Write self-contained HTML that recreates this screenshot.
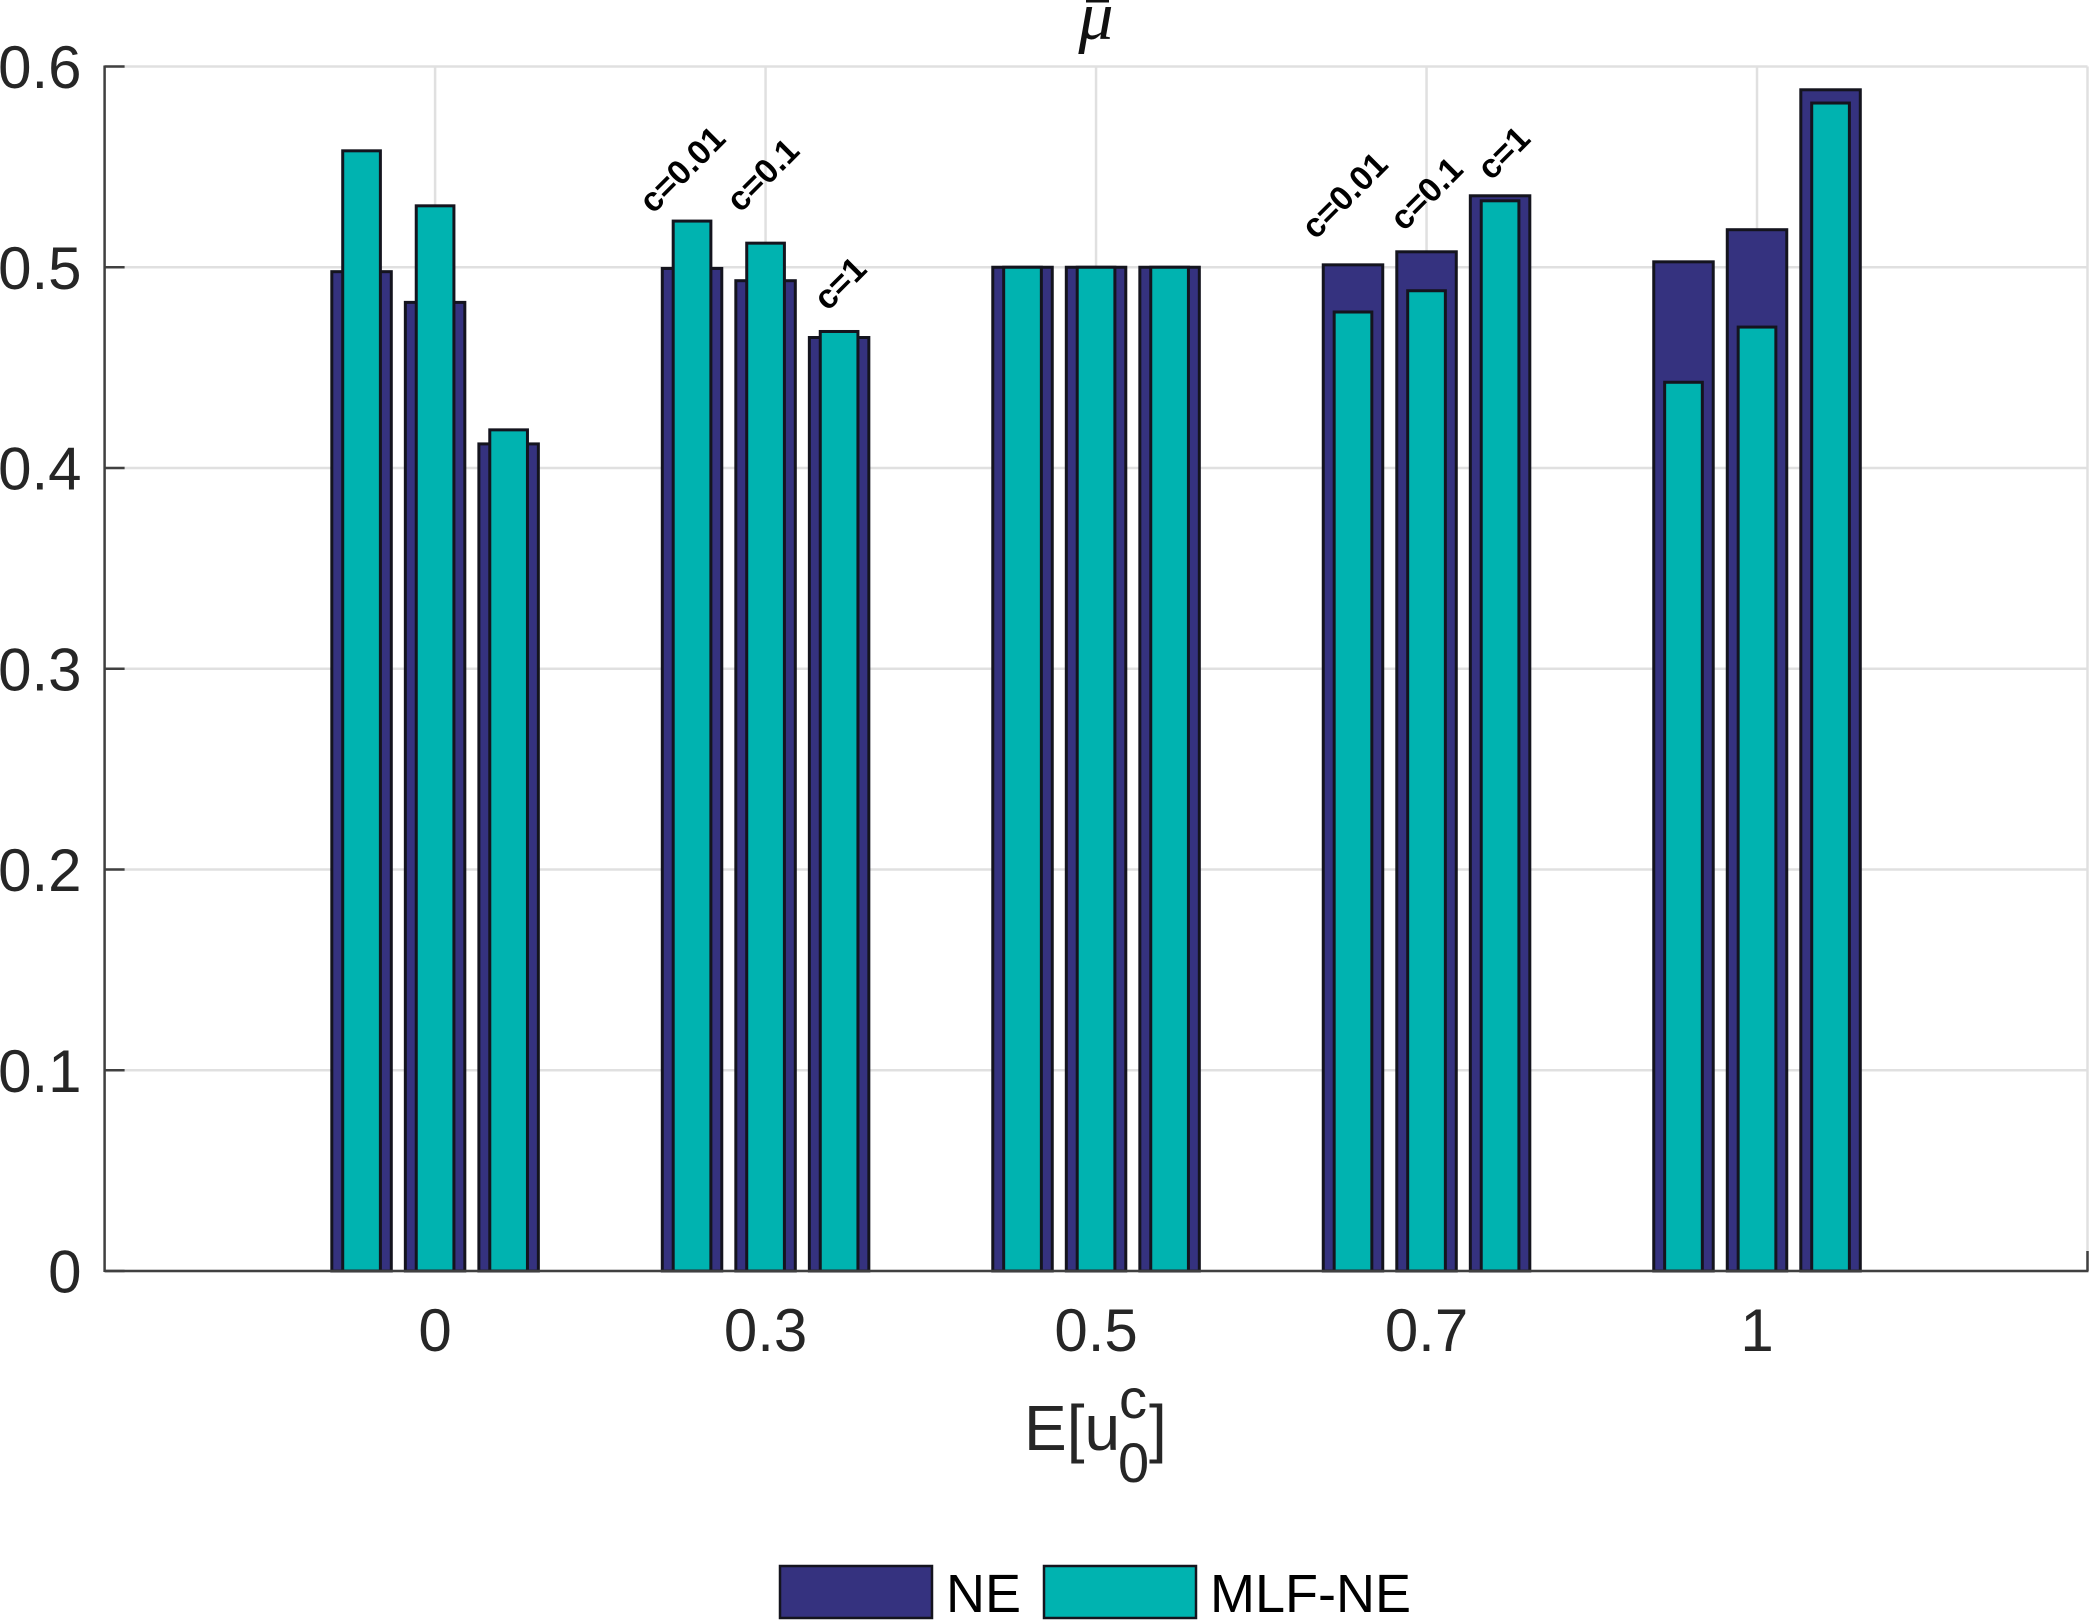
<!DOCTYPE html>
<html lang="en">
<head>
<meta charset="utf-8">
<title>Bar chart of mu-bar by E[u0c]</title>
<style>
html,body{margin:0;padding:0;background:#fff;width:2090px;height:1620px;overflow:hidden}
svg{display:block;font-family:"Liberation Sans",Arial,sans-serif}
</style>
</head>
<body>
<svg id="chart" xmlns="http://www.w3.org/2000/svg" width="2090" height="1620" viewBox="0 0 2090 1620">
  <g id="grid"></g>
  <g id="bars"></g>
  <g id="axes"></g>
  <g id="annotations"></g>
  <rect x="1086" y="0" width="23" height="2.5" fill="#111"/>
  <text x="1096" y="39" text-anchor="middle" font-family="'Liberation Serif',serif" font-style="italic" font-size="70" fill="#111">μ</text>
  <text fill="#262626" font-size="64"><tspan x="1024" y="1450">E[u</tspan><tspan x="1119" y="1418" font-size="56">c</tspan><tspan x="1118" y="1482" font-size="56">0</tspan><tspan x="1149" y="1450">]</tspan></text>
  <g>
    <rect x="780" y="1566" width="152" height="52" fill="#35327f" stroke="#14141e" stroke-width="2.5"/>
    <text x="946" y="1612" font-size="54" fill="#000">NE</text>
    <rect x="1044" y="1566" width="152" height="52" fill="#00b3b0" stroke="#14141e" stroke-width="2.5"/>
    <text x="1210" y="1612" font-size="54" fill="#000">MLF-NE</text>
  </g>
</svg>
<script>
const categories = ['0', '0.3', '0.5', '0.7', '1'];
const yTickValues = [0, 0.1, 0.2, 0.3, 0.4, 0.5, 0.6];
const yTickLabels = ['0', '0.1', '0.2', '0.3', '0.4', '0.5', '0.6'];
const neC001 = [0.4978, 0.4994, 0.5, 0.5012, 0.5027];
const neC01 = [0.4825, 0.4933, 0.5, 0.5077, 0.5187];
const neC1 = [0.412, 0.465, 0.5, 0.5356, 0.5884];
const mlfC001 = [0.558, 0.523, 0.5, 0.4777, 0.4427];
const mlfC01 = [0.5306, 0.512, 0.5, 0.4883, 0.4702];
const mlfC1 = [0.419, 0.468, 0.5, 0.5331, 0.5818];
const annotationText = ['c=0.01', 'c=0.1', 'c=1', 'c=0.01', 'c=0.1', 'c=1'];
const annotationX = [1.66, 1.924, 2.188, 3.664, 3.932, 4.196];
const annotationY = [0.5262, 0.5268, 0.4778, 0.5133, 0.5175, 0.5428];

const NS = 'http://www.w3.org/2000/svg';
const plot = {left: 104.6, right: 2087.5, top: 66.5, bottom: 1271};
const xMax = categories.length + 1;
const yMax = 0.6;
const barGroupStep = 0.2225;
const neWidth = 0.18;
const mlfWidth = 0.114;

function xScale(v) { return plot.left + (plot.right - plot.left) * v / xMax; }
function yScale(v) { return plot.bottom - (plot.bottom - plot.top) * v / yMax; }

function make(tag, parentId, props) {
  const el = document.createElementNS(NS, tag);
  for (const k in props) el.setAttribute(k, props[k]);
  document.getElementById(parentId).appendChild(el);
  return el;
}

// grid lines
yTickValues.forEach(function (t) {
  const el = make('line', 'grid', {x1: plot.left, x2: plot.right, y1: yScale(t), y2: yScale(t), stroke: '#e0e0e0', 'stroke-width': 2.5});
  
  
});
for (let i = 1; i <= xMax; i++) {
  const el = make('line', 'grid', {x1: xScale(i), x2: xScale(i), y1: plot.top, y2: plot.bottom, stroke: '#e0e0e0', 'stroke-width': 2.5});
  
  
}

// bars
const neSeries = [neC001, neC01, neC1];
const mlfSeries = [mlfC001, mlfC01, mlfC1];
function drawBar(value, center, width, fill, name) {
  const x0 = xScale(center - width / 2);
  const x1 = xScale(center + width / 2);
  const el = make('rect', 'bars', {x: x0, y: yScale(value), width: x1 - x0, height: yScale(0) - yScale(value), fill: fill, stroke: '#14141e', 'stroke-width': 3});
  
  
}
categories.forEach(function (c, i) {
  neSeries.forEach(function (series, s) {
    drawBar(series[i], i + 1 + (s - 1) * barGroupStep, neWidth, '#35327f', 'bar-ne');
    drawBar(mlfSeries[s][i], i + 1 + (s - 1) * barGroupStep, mlfWidth, '#00b3b0', 'bar-mlf-ne');
  });
});

// axes
const axisColor = '#404040';
const axisLeft = make('line', 'axes', {x1: plot.left, x2: plot.left, y1: plot.top - 1, y2: plot.bottom + 1, stroke: axisColor, 'stroke-width': 2.5});


const axisBottom = make('line', 'axes', {x1: plot.left, x2: plot.right + 1, y1: plot.bottom, y2: plot.bottom, stroke: axisColor, 'stroke-width': 2.5});


const endTick = make('line', 'axes', {x1: plot.right, x2: plot.right, y1: plot.bottom - 20, y2: plot.bottom, stroke: axisColor, 'stroke-width': 2.5});



yTickValues.forEach(function (t, i) {
  const tick = make('line', 'axes', {x1: plot.left, x2: plot.left + 20, y1: yScale(t), y2: yScale(t), stroke: axisColor, 'stroke-width': 2.5});
  
  
  const label = make('text', 'axes', {x: 81.5, y: yScale(t) + 21.5, 'text-anchor': 'end', 'font-size': 60, fill: '#262626'});
  label.textContent = yTickLabels[i];
  
  
});
categories.forEach(function (c, i) {
  const label = make('text', 'axes', {x: xScale(i + 1), y: 1351, 'text-anchor': 'middle', 'font-size': 60, fill: '#262626'});
  label.textContent = c;
  
  
});

// annotations
annotationText.forEach(function (t, i) {
  const ax = xScale(annotationX[i]);
  const ay = yScale(annotationY[i]);
  const el = make('text', 'annotations', {x: ax, y: ay, 'font-size': 34, 'font-weight': 'bold', fill: '#000', transform: 'rotate(-45 ' + ax + ' ' + ay + ')'});
  el.textContent = t;
  
  
});
</script>
</body>
</html>
